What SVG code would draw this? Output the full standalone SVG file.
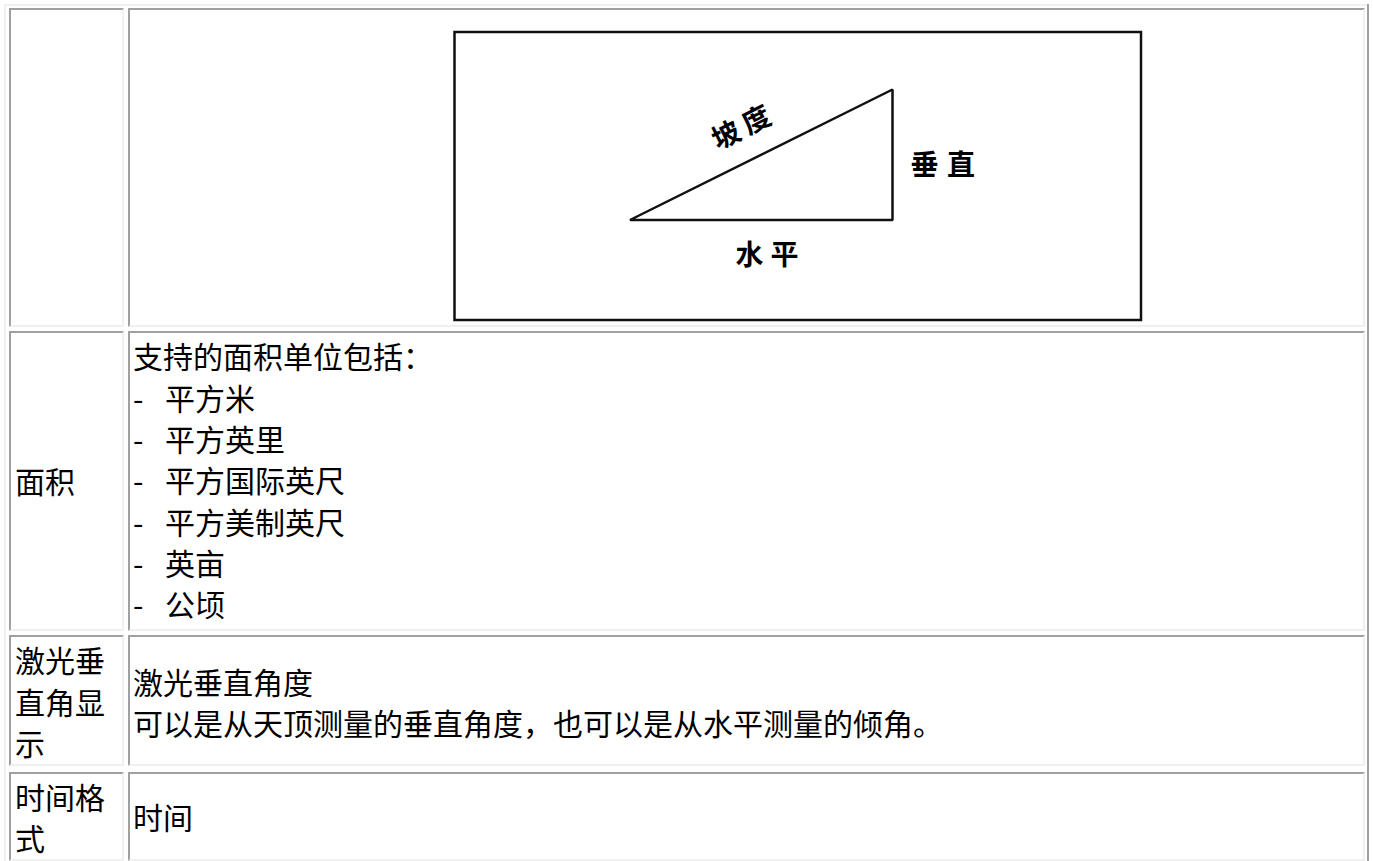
<svg xmlns="http://www.w3.org/2000/svg" width="1373" height="861" viewBox="0 0 1373 861">
<style>
.bg{fill:#ffffff}
.lt{fill:#f0f0f0}
.dk{fill:#a0a0a0}
.in{fill:#ffffff}
.t{font-family:"Noto Sans CJK SC","Noto Sans CJK TC",sans-serif;font-size:30px;fill:#000}
.lbl{font-family:"Noto Sans CJK SC","Noto Sans CJK JP",sans-serif;font-size:28px;font-weight:bold;fill:#000}
.ln{fill:none;stroke:#111;stroke-width:2.5}
</style>
<rect class="bg" x="0" y="0" width="1373" height="861"/>
<g id="table-frame">
<rect class="lt" x="4" y="4" width="1365" height="2"/>
<rect class="lt" x="4" y="4" width="2" height="860"/>
<rect class="dk" x="1367" y="4" width="2" height="860"/>
</g>
<g id="cell-r1c1">
<rect class="lt" x="9" y="8" width="115" height="319"/>
<path class="dk" d="M9,8H124L122,10H11V325L9,327Z"/>
<rect class="in" x="11" y="10" width="111" height="315"/>
</g>
<g id="cell-r1c2">
<rect class="lt" x="128" y="8" width="1237" height="319"/>
<path class="dk" d="M128,8H1365L1363,10H130V325L128,327Z"/>
<rect class="in" x="130" y="10" width="1233" height="315"/>
</g>
<g id="figure">
<rect class="ln" x="454.5" y="32" width="686.5" height="288"/>
<polygon class="ln" points="630,220 892.5,89.5 892.5,220" stroke-linejoin="bevel"/>
<text class="lbl" transform="translate(741,127) rotate(-27)" x="-31" y="10.5" letter-spacing="6">坡度</text>
<text class="lbl" x="910.5" y="175" letter-spacing="8.6">垂直</text>
<text class="lbl" x="735.5" y="264.5" letter-spacing="7">水平</text>
</g>
<g id="cell-r2c1">
<rect class="lt" x="9" y="331" width="115" height="300"/>
<path class="dk" d="M9,331H124L122,333H11V629L9,631Z"/>
<rect class="in" x="11" y="333" width="111" height="296"/>
<text class="t" x="15" y="493">面积</text>
</g>
<g id="cell-r2c2">
<rect class="lt" x="128" y="331" width="1237" height="300"/>
<path class="dk" d="M128,331H1365L1363,333H130V629L128,631Z"/>
<rect class="in" x="130" y="333" width="1233" height="296"/>
<text class="t" x="133" y="368">支持的面积单位包括：</text>
<text class="t" y="409.5"><tspan x="133">- </tspan><tspan x="165">平方米</tspan></text>
<text class="t" y="451"><tspan x="133">- </tspan><tspan x="165">平方英里</tspan></text>
<text class="t" y="492"><tspan x="133">- </tspan><tspan x="165">平方国际英尺</tspan></text>
<text class="t" y="533.5"><tspan x="133">- </tspan><tspan x="165">平方美制英尺</tspan></text>
<text class="t" y="575"><tspan x="133">- </tspan><tspan x="165">英亩</tspan></text>
<text class="t" y="616"><tspan x="133">- </tspan><tspan x="165">公顷</tspan></text>
</g>
<g id="cell-r3c1">
<rect class="lt" x="9" y="635" width="115" height="131"/>
<path class="dk" d="M9,635H124L122,637H11V764L9,766Z"/>
<rect class="in" x="11" y="637" width="111" height="127"/>
<text class="t" x="15" y="672">激光垂</text>
<text class="t" x="15" y="713.5">直角显</text>
<text class="t" x="15" y="754.5">示</text>
</g>
<g id="cell-r3c2">
<rect class="lt" x="128" y="635" width="1237" height="131"/>
<path class="dk" d="M128,635H1365L1363,637H130V764L128,766Z"/>
<rect class="in" x="130" y="637" width="1233" height="127"/>
<text class="t" x="133" y="693.5">激光垂直角度</text>
<text class="t" x="133" y="735">可以是从天顶测量的垂直角度，也可以是从水平测量的倾角。</text>
</g>
<g id="cell-r4c1">
<rect class="lt" x="9" y="772" width="115" height="89"/>
<path class="dk" d="M9,772H124L122,774H11V859L9,861Z"/>
<rect class="in" x="11" y="774" width="111" height="85"/>
<text class="t" x="15" y="808.5">时间格</text>
<text class="t" x="15" y="849.5">式</text>
</g>
<g id="cell-r4c2">
<rect class="lt" x="128" y="772" width="1237" height="89"/>
<path class="dk" d="M128,772H1365L1363,774H130V859L128,861Z"/>
<rect class="in" x="130" y="774" width="1233" height="85"/>
<text class="t" x="133" y="829">时间</text>
</g>
<g id="connectors"></g>
</svg>
